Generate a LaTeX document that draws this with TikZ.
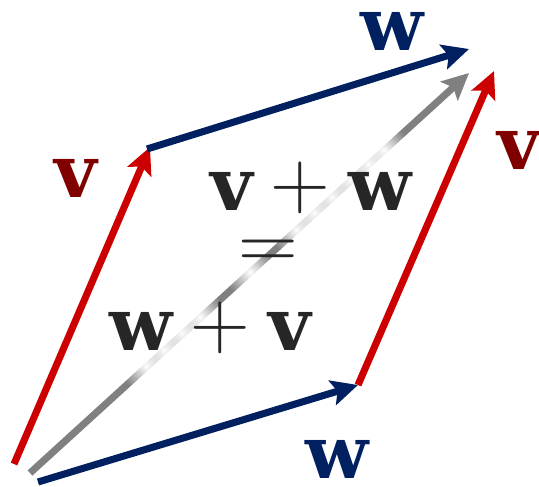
\documentclass[tikz,border=0pt]{standalone}
\usepackage{fontspec}
\setmainfont{DejaVu Serif}
\newfontfamily\lmfont{Latin Modern Roman}
\usetikzlibrary{arrows.meta,fadings}
\definecolor{vred}{RGB}{204,0,0}
\definecolor{vdark}{RGB}{128,0,0}
\definecolor{wblue}{RGB}{0,32,96}
\definecolor{sumgray}{RGB}{38,38,38}
\definecolor{diag}{RGB}{128,128,128}
\tikzfading[name=myfade, inner color=transparent!0, outer color=transparent!100]
\newcommand{\bigplus}{{\lmfont\mdseries\fontsize{62}{62}\selectfont\raisebox{0.02em}{+}}}
\tikzset{
  vec/.style={line width=5.3pt, -{Stealth[length=20pt,width=19pt,inset=4pt]}},
  lab/.style={font=\fontsize{55}{60}\selectfont\bfseries, inner sep=0pt},
  halo/.style={white, path fading=myfade},
}
\begin{document}
\begin{tikzpicture}[x=0.75pt,y=-0.75pt]
\useasboundingbox (0,0) rectangle (539,486);
\coordinate (O) at (14,464);
\coordinate (V) at (150,147);
\coordinate (S) at (494,71);
\coordinate (W) at (358,385);
\coordinate (Og) at (30,473);
\coordinate (Sg) at (469,73);
\coordinate (Ob) at (38,482);
\coordinate (Vt) at (147,149);
\coordinate (St) at (469,49);
% diagonal
\draw[vec, diag] (Og) -- (Sg);
% halos
\foreach \p in {(296,230),(314,213),(332,197),(350,180),(368,164),(384,150),(250,272),(146,366),(164,350),(182,333),(200,317)}
  \fill[halo] \p circle (26);
% sum text
\node[lab, text=sumgray] (sum1) at (311,188) {v\hspace{0.25em}\bigplus\hspace{0.25em}w};
\node[lab, text=sumgray] (eq) at (268,255) {{\lmfont\mdseries\fontsize{62}{62}\selectfont =}};
\node[lab, text=sumgray] (sum2) at (210,328) {w\hspace{0.25em}\bigplus\hspace{0.25em}v};
% vectors
\draw[vec, vred] (O) -- (V);
\draw[vec, wblue] (Vt) -- (St);
\draw[vec, wblue] (Ob) -- (W);
\draw[vec, vred] (W) -- (S);
% labels
\node[lab, text=vdark] (lv1) at (76,178) {v};
\node[lab, text=wblue] (lw1) at (392,31) {w};
\node[lab, text=vdark] (lv2) at (519,150) {v};
\node[lab, text=wblue] (lw2) at (337,459) {w};
\end{tikzpicture}
\end{document}
